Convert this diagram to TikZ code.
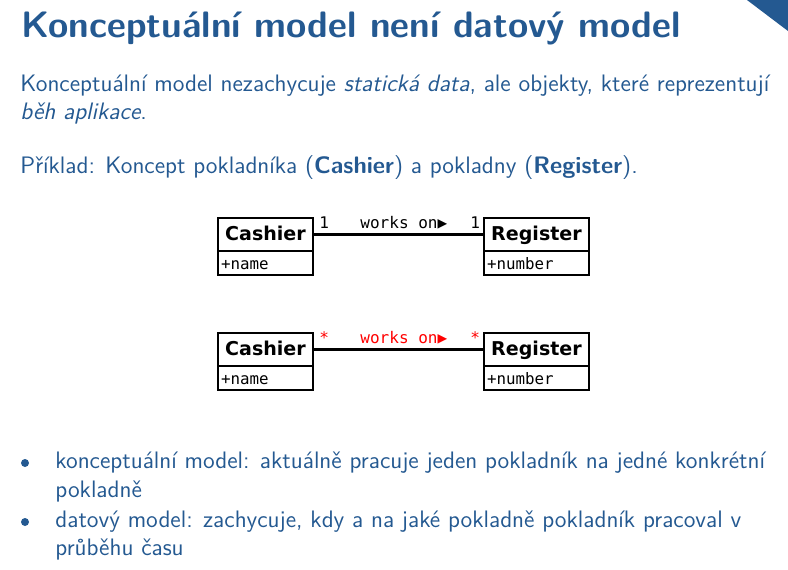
\documentclass[tikz,border=0pt]{standalone}
\usepackage{fontspec}
\newfontfamily\umlsans{DejaVu Sans}
\newfontfamily\umlmono{DejaVu Sans Mono}
\definecolor{slideblue}{RGB}{36,89,145}
\definecolor{multred}{RGB}{255,0,0}
\newcommand{\pxu}{0.4619pt}

\tikzset{
  slidetext/.style={anchor=base west, inner sep=0pt, text=slideblue,
    font=\fontsize{11}{13}\selectfont\sffamily},
  slidetitle/.style={anchor=base west, inner sep=0pt, text=slideblue,
    font=\fontsize{17}{20}\selectfont\sffamily\bfseries},
  bulletdot/.style={circle, fill=slideblue, inner sep=0pt, minimum size=8*\pxu},
  classname/.style={draw, line width=0.95pt, anchor=north west, inner sep=0pt,
    outer sep=0pt, minimum height=33*\pxu, text height=0.73em, text depth=0.15em,
    font=\fontsize{8.8}{10}\selectfont\umlsans\bfseries},
  classattr/.style={draw, line width=0.95pt, anchor=north west, inner ysep=0pt,
    outer sep=0pt, inner xsep=3*\pxu, minimum height=24*\pxu, align=left,
    text height=0.76em, text depth=0.12em,
    font=\fontsize{7.3}{9}\selectfont\umlmono},
  assoc/.style={line width=1pt},
  assoclabel/.style={anchor=base west, inner sep=0pt,
    font=\fontsize{7.4}{9}\selectfont\umlmono},
}

\begin{document}
\begin{tikzpicture}[x=0.4619pt, y=-0.4619pt]
  \useasboundingbox (0,0) rectangle (788,570);

  % corner decoration
  \fill[slideblue] (747,0) -- (788,0) -- (788,31) -- cycle;

  % title and text
  \node[slidetitle] (title) at (21,37) {Konceptuální model není datový model};
  \node[slidetext] (intro1) at (20,91)
    {Konceptuální model nezachycuje \textit{statická data}, ale objekty, které reprezentují};
  \node[slidetext] (intro2) at (20,119) {\textit{běh aplikace}.};
  \node[slidetext] (example) at (20,173)
    {Příklad: Koncept pokladníka (\textbf{Cashier}) a pokladny (\textbf{Register}).};

  % first diagram: 1 -- 1
  \node[classname, minimum width=95*\pxu] (cashA) at (218,218) {Cashier};
  \node[classattr, text width=89*\pxu] (cashAattr) at (cashA.south west) {+name};
  \node[classname, minimum width=105*\pxu] (regA) at (484,218) {Register};
  \node[classattr, text width=99*\pxu] (regAattr) at (regA.south west) {+number};
  \draw[assoc] (cashA.east) -- (regA.west);
  \node[assoclabel] (multA1) at (319,228) {1};
  \node[assoclabel] (roleA) at (360,228) {works on▶};
  \node[assoclabel] (multA2) at (470,228) {1};

  % second diagram: * -- *
  \node[classname, minimum width=95*\pxu] (cashB) at (218,333) {Cashier};
  \node[classattr, text width=89*\pxu] (cashBattr) at (cashB.south west) {+name};
  \node[classname, minimum width=105*\pxu] (regB) at (484,333) {Register};
  \node[classattr, text width=99*\pxu] (regBattr) at (regB.south west) {+number};
  \draw[assoc] (cashB.east) -- (regB.west);
  \node[assoclabel, text=multred] (multB1) at (319,343) {*};
  \node[assoclabel, text=multred] (roleB) at (360,343) {works on▶};
  \node[assoclabel, text=multred] (multB2) at (470,343) {*};

  % bullet list
  \node[bulletdot] (dot1) at (25,463) {};
  \node[slidetext] (item1a) at (55,468)
    {konceptuální model: aktuálně pracuje jeden pokladník na jedné konkrétní};
  \node[slidetext] (item1b) at (55,497) {pokladně};
  \node[bulletdot] (dot2) at (25,522) {};
  \node[slidetext] (item2a) at (55,527)
    {datový model: zachycuje, kdy a na jaké pokladně pokladník pracoval v};
  \node[slidetext] (item2b) at (55,555) {průběhu času};
\end{tikzpicture}
\end{document}
